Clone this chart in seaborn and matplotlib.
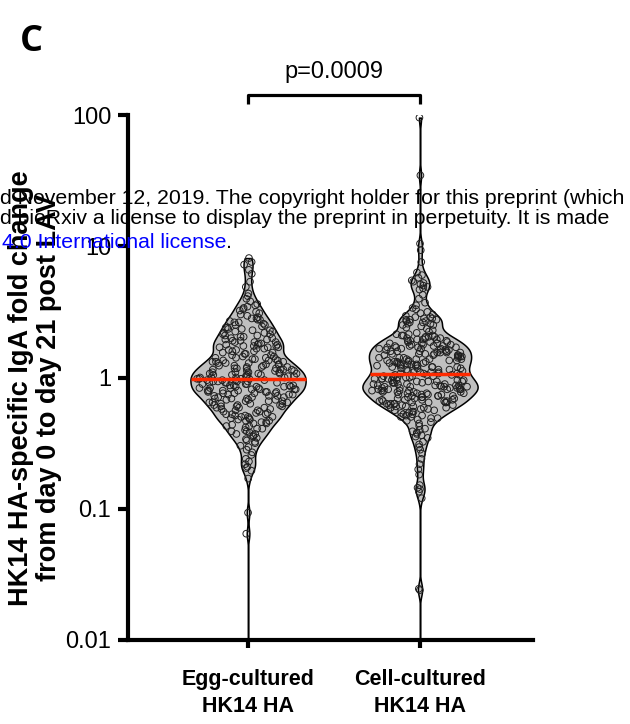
import numpy as np
import pandas as pd
import matplotlib
matplotlib.use("Agg")
import matplotlib.pyplot as plt
import seaborn as sns
from matplotlib.ticker import NullLocator

# ---------------- data (log10 fold change) ----------------
categories = ["Egg-cultured\nHK14 HA", "Cell-cultured\nHK14 HA"]

egg_log10 = [
    0.91, 0.88, 0.86, 0.82, 0.79, 0.73, 0.69,
    0.64, 0.62, 0.60, 0.58, 0.56,
    0.55, 0.54, 0.53, 0.52, 0.51, 0.50, 0.49, 0.48, 0.47, 0.46,
    0.45, 0.45, 0.44, 0.44, 0.43, 0.42, 0.42, 0.41, 0.40, 0.40, 0.39, 0.38, 0.38, 0.37, 0.37,
    0.36, 0.36,
    0.35, 0.35, 0.34, 0.34, 0.33, 0.33, 0.32, 0.32, 0.31, 0.31, 0.30, 0.30, 0.29, 0.29, 0.28,
    0.28, 0.27, 0.27, 0.27, 0.26, 0.26,
    0.25, 0.25, 0.25, 0.24, 0.24, 0.24, 0.23, 0.23, 0.23, 0.22, 0.22, 0.21, 0.21, 0.20, 0.20,
    0.19, 0.19, 0.18, 0.18, 0.17, 0.17, 0.16, 0.16,
    0.15, 0.15, 0.15, 0.14, 0.14, 0.14, 0.13, 0.13, 0.13, 0.12, 0.12, 0.12, 0.11, 0.11, 0.11,
    0.10, 0.10, 0.10, 0.09, 0.09, 0.09, 0.08, 0.08, 0.08, 0.07, 0.07, 0.07, 0.07, 0.06, 0.06,
    0.06, 0.06, 0.05,
    0.05, 0.05, 0.04, 0.04, 0.04, 0.04, 0.03, 0.03, 0.03, 0.03, 0.02, 0.02, 0.02, 0.02, 0.01,
    0.01, 0.01, 0.01, 0.00, 0.00, 0.00, 0.00, -0.01, -0.01, -0.01, -0.01, -0.02, -0.02, -0.02,
    -0.02, -0.03, -0.03, -0.03, -0.03, -0.04, -0.04, -0.04, -0.04, -0.05, -0.05,
    -0.05, -0.06, -0.06, -0.06, -0.06, -0.07, -0.07, -0.07, -0.07, -0.08, -0.08, -0.08, -0.08,
    -0.09, -0.09, -0.09, -0.09, -0.10, -0.10, -0.10, -0.10, -0.11, -0.11, -0.11, -0.11, -0.12,
    -0.12, -0.12, -0.12, -0.13, -0.13, -0.13, -0.14, -0.14, -0.14, -0.15,
    -0.15, -0.15, -0.16, -0.16, -0.16, -0.17, -0.17, -0.17, -0.18, -0.18, -0.18, -0.19, -0.19,
    -0.19, -0.20, -0.20, -0.20, -0.21, -0.21, -0.21, -0.22, -0.22, -0.22, -0.23, -0.23, -0.23,
    -0.24, -0.24, -0.25, -0.25,
    -0.26, -0.26, -0.27, -0.27, -0.28, -0.28, -0.28, -0.29, -0.29, -0.30, -0.30, -0.30, -0.31,
    -0.31, -0.32, -0.32, -0.33, -0.33, -0.34, -0.34, -0.35, -0.35,
    -0.36, -0.37, -0.37, -0.38, -0.39, -0.39, -0.40, -0.41, -0.41, -0.42, -0.43, -0.43, -0.44,
    -0.45,
    -0.46, -0.47, -0.48, -0.49, -0.50, -0.52, -0.53, -0.55,
    -0.57, -0.59, -0.62, -0.64, -0.66, -0.68, -0.69, -0.71, -0.77,
    -1.03, -1.19, -2.20,
]

cell_log10 = [
    1.98, 1.54, 1.02, 0.97, 0.88,
    0.80, 0.78, 0.76,
    0.74, 0.73, 0.72, 0.71, 0.70, 0.69, 0.68, 0.67,
    0.63, 0.60, 0.57,
    0.55, 0.53, 0.52, 0.50, 0.49, 0.48,
    0.47, 0.46, 0.46, 0.45, 0.45, 0.44, 0.44, 0.44, 0.43, 0.43, 0.42, 0.42, 0.41, 0.41, 0.40,
    0.40, 0.39,
    0.38, 0.37, 0.36, 0.35, 0.34,
    0.33, 0.33, 0.32, 0.32, 0.32, 0.31, 0.31, 0.31, 0.30, 0.30, 0.30, 0.29, 0.29, 0.29, 0.28,
    0.28, 0.28, 0.27, 0.27, 0.27, 0.26, 0.26, 0.26, 0.25, 0.25, 0.25,
    0.24, 0.24, 0.24, 0.24, 0.23, 0.23, 0.23, 0.23, 0.22, 0.22, 0.22, 0.22, 0.21, 0.21, 0.21,
    0.21, 0.20, 0.20, 0.20, 0.20, 0.19, 0.19, 0.19, 0.19, 0.18, 0.18, 0.18, 0.18, 0.17, 0.17,
    0.17, 0.17, 0.16, 0.16, 0.16,
    0.15, 0.15, 0.15, 0.15, 0.14, 0.14, 0.14, 0.14, 0.13, 0.13, 0.13, 0.13, 0.12, 0.12, 0.12,
    0.12, 0.11, 0.11, 0.11, 0.11, 0.10, 0.10, 0.10, 0.10, 0.09, 0.09, 0.09, 0.09, 0.08, 0.08,
    0.08, 0.08, 0.07, 0.07, 0.07, 0.06, 0.06, 0.06,
    0.05, 0.05, 0.04, 0.04, 0.04, 0.04, 0.03, 0.03, 0.03, 0.03, 0.02, 0.02, 0.02, 0.02, 0.01,
    0.01, 0.01, 0.01, 0.00, 0.00, 0.00, 0.00, -0.01, -0.01, -0.01, -0.01, -0.02, -0.02, -0.02,
    -0.02, -0.03, -0.03, -0.03, -0.03, -0.04, -0.04, -0.04, -0.04, -0.05, -0.05,
    -0.05, -0.05, -0.06, -0.06, -0.06, -0.06, -0.06, -0.07, -0.07, -0.07, -0.07, -0.07, -0.08,
    -0.08, -0.08, -0.08, -0.08, -0.09, -0.09, -0.09, -0.09, -0.09, -0.10, -0.10, -0.10, -0.10,
    -0.10, -0.11, -0.11, -0.11, -0.11, -0.12, -0.12, -0.12, -0.12, -0.13, -0.13, -0.13, -0.13,
    -0.14, -0.14, -0.14, -0.14, -0.15,
    -0.15, -0.15, -0.16, -0.16, -0.16, -0.17, -0.17, -0.17, -0.17, -0.18, -0.18, -0.18, -0.18,
    -0.19, -0.19, -0.19, -0.19, -0.20, -0.20, -0.20, -0.20, -0.21, -0.21, -0.21, -0.22, -0.22,
    -0.22, -0.23, -0.23, -0.23, -0.24, -0.24, -0.25, -0.25,
    -0.26, -0.26, -0.27, -0.27, -0.28, -0.28, -0.29, -0.29, -0.30, -0.30, -0.31, -0.31, -0.32,
    -0.33, -0.34, -0.35,
    -0.37, -0.39, -0.40, -0.41, -0.42, -0.43, -0.44, -0.45, -0.46,
    -0.49, -0.51, -0.53, -0.55, -0.58, -0.62, -0.66, -0.70, -0.74,
    -0.82, -0.84, -0.85, -0.87, -0.92,
    -1.61, -1.62, -2.20,
]

ytick_values = [0.01, 0.1, 1, 10, 100]
ytick_labels = ["0.01", "0.1", "1", "10", "100"]
ylabel_text = "HK14 HA-specific IgA fold change\nfrom day 0 to day 21 post LAV"
p_text = "p=0.0009"
panel_label = "C"
watermark_lines = [
    "d November 12, 2019. The copyright holder for this preprint (which",
    "d bioRxiv a license to display the preprint in perpetuity. It is made",
]
watermark_link = "4.0 International license"

# ---------------- table ----------------
df = pd.DataFrame({
    "group": [categories[0]] * len(egg_log10) + [categories[1]] * len(cell_log10),
    "value": np.power(10.0, np.array(egg_log10 + cell_log10)),
})

sns.set_theme(style="white")
plt.rcParams["font.family"] = ["Liberation Sans", "DejaVu Sans"]
plt.rcParams["text.color"] = "black"
plt.rcParams["axes.labelcolor"] = "black"
plt.rcParams["xtick.color"] = "black"
plt.rcParams["ytick.color"] = "black"

W, H = 630, 724
fig = plt.figure(figsize=(W / 100, H / 100), dpi=100)
ax = fig.add_axes([128 / W, 84 / H, 405 / W, 525 / H])

VIOLIN_GRAY = "#c0c0c0"
sns.violinplot(
    data=df, x="group", y="value", order=categories, log_scale=True,
    cut=0, bw_adjust=0.4, gridsize=700, density_norm="width", width=0.67,
    inner=None, color=VIOLIN_GRAY, saturation=1, linecolor="black",
    linewidth=1.1, ax=ax,
)

# half-width profile of each drawn violin (from the polygons seaborn produced)
profiles = []
for i, coll in enumerate(ax.collections[:2]):
    v = coll.get_paths()[0].vertices
    right = v[v[:, 0] >= i]
    ly = np.log10(right[:, 1])
    order = np.argsort(ly)
    profiles.append((ly[order], right[order, 0] - i))


def half_width(i, logv):
    ly, hw = profiles[i]
    return np.interp(logv, ly, hw)


# individual points, jittered within the violin outline
np.random.seed(7)
df["level"] = 0.0
for i, cat in enumerate(categories):
    m = df["group"] == cat
    hw = half_width(i, np.log10(df.loc[m, "value"].to_numpy()))
    df.loc[m, "level"] = np.maximum(np.round(hw * 0.88 / 0.012) * 0.012, 0.004)

n_before = len(ax.collections)
for lev in sorted(df["level"].unique()):
    sub = df[df["level"] == lev]
    sns.stripplot(
        data=sub, x="group", y="value", order=categories, jitter=float(lev),
        size=4.8, color="#222222", linewidth=0.7, edgecolor="#222222",
        ax=ax, zorder=3,
    )
for coll in ax.collections[n_before:]:
    coll.set_facecolor("none")
    coll.set_edgecolor("#1f1f1f")
    coll.set_linewidth(0.7)

# red median lines
for i, vals in enumerate([egg_log10, cell_log10]):
    med_log = np.median(vals)
    hw = half_width(i, med_log)
    ax.hlines(10 ** med_log, i - hw, i + hw, color="#ff2a00", lw=2.5, zorder=4)

# ---------------- axes styling ----------------
ax.set_yscale("log")
ax.set_ylim(0.01, 100)
ax.set_xlim(-0.698, 1.657)
ax.set_yticks(ytick_values)
ax.set_yticklabels(ytick_labels)
ax.yaxis.set_minor_locator(NullLocator())
ax.set_xlabel("")
ax.set_ylabel("")
for s in ["top", "right"]:
    ax.spines[s].set_visible(False)
for s in ["left", "bottom"]:
    ax.spines[s].set_linewidth(3.0)
    ax.spines[s].set_color("black")
    ax.spines[s].set_capstyle("projecting")
ax.tick_params(axis="y", which="major", direction="out", length=7, width=3,
               labelsize=17, pad=5, colors="black", left=True)
ax.tick_params(axis="x", which="major", direction="out", length=6, width=3,
               labelsize=15.5, pad=15, colors="black", bottom=True)
for t in ax.get_xticklabels():
    t.set_fontweight("bold")
    t.set_linespacing(1.34)
ax.grid(False)

# significance bracket
ybr = 142
ytk = 122
ax.plot([0, 0, 1, 1], [ytk, ybr, ybr, ytk], color="black", lw=2.3,
        clip_on=False, solid_capstyle="butt")
ax.text(0.5, 212, p_text, ha="center", va="center", fontsize=17)

# y label and panel letter
fig.text(35 / W, 1 - 388 / H, ylabel_text, rotation=90, ha="center", va="center",
         fontsize=19.5, fontweight="bold", linespacing=1.1)
fig.text(20 / W, 1 - 42 / H, panel_label, ha="left", va="center", fontsize=26,
         fontweight="bold", family=["Open Sans", "DejaVu Sans"])

# bioRxiv watermark overlay
WM = 15.3
fig.text(0 / W, 1 - 198 / H, watermark_lines[0], ha="left", va="center", fontsize=WM)
fig.text(0 / W, 1 - 219 / H, watermark_lines[1], ha="left", va="center", fontsize=WM)
t_link = fig.text(2 / W, 1 - 242 / H, watermark_link, ha="left", va="center",
                  fontsize=WM, color="#0000ff")
fig.canvas.draw()
bb = t_link.get_window_extent()
fig.text(bb.x1 / W, 1 - 242 / H, ".", ha="left", va="center", fontsize=WM, color="black")

fig.savefig("out.png", dpi=100)
